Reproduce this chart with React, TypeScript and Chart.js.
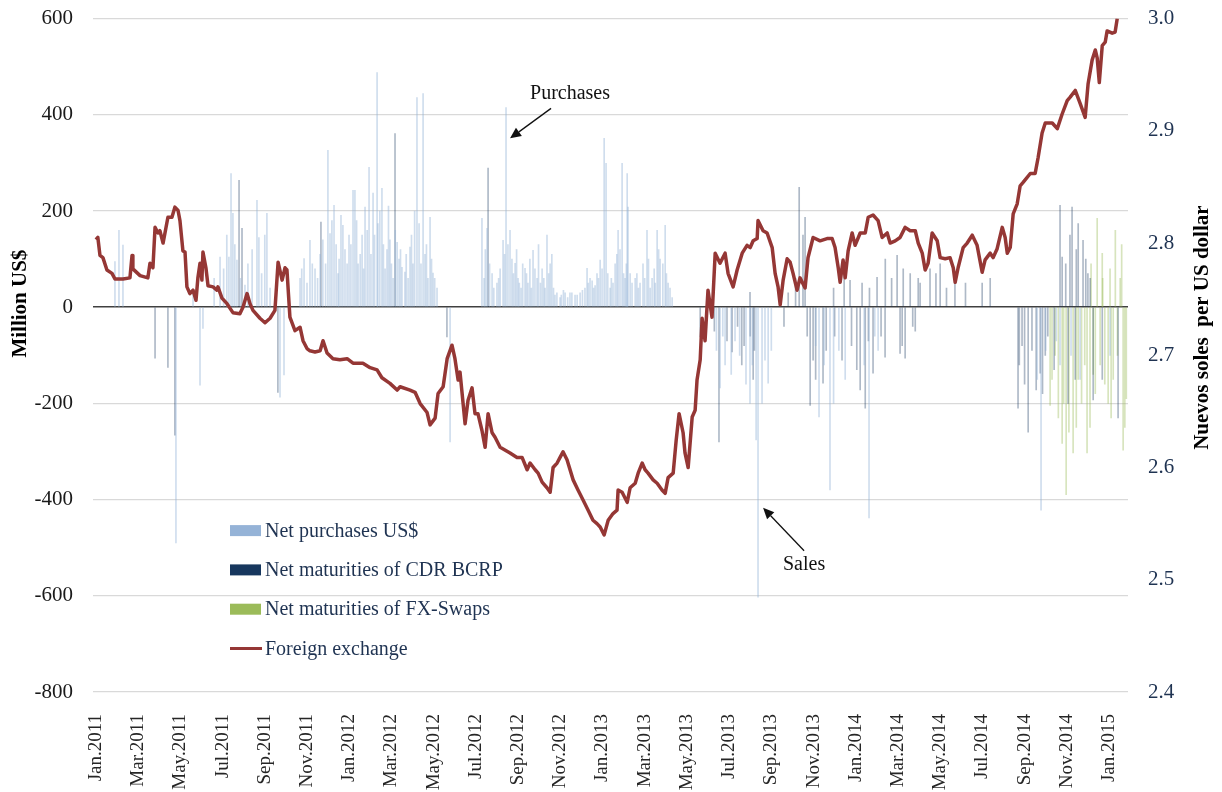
import React, { useEffect, useRef } from 'react';
import { Chart, registerables } from 'chart.js';

Chart.register(...registerables);

// ---- tick labels ----
const monthNames = ['Jan', 'Feb', 'Mar', 'Apr', 'May', 'Jun', 'Jul', 'Aug', 'Sep', 'Oct', 'Nov', 'Dec'];
const firstYear = 2011;

// ---- foreign exchange (soles per US dollar); time in months since 1 Jan 2011 ----
const fxMonth = [
  0.0, 0.09, 0.19, 0.33, 0.52, 0.76, 0.90, 1.28, 1.61, 1.71, 1.75, 2.09, 2.46, 2.56, 2.70, 2.80, 2.94, 3.03, 3.18, 3.41,
  3.60, 3.74, 3.89, 3.98, 4.12, 4.22, 4.31, 4.45, 4.60, 4.74, 4.83, 4.93, 5.02, 5.07, 5.21, 5.31, 5.55, 5.73, 5.78, 5.97,
  6.21, 6.49, 6.82, 6.97, 7.16, 7.30, 7.44, 7.77, 8.01, 8.25, 8.48, 8.63, 8.82, 8.96, 9.05, 9.19, 9.43, 9.67, 9.81, 10.00,
  10.14, 10.38, 10.62, 10.76, 10.95, 11.23, 11.56, 11.90, 12.18, 12.65, 12.99, 13.32, 13.55, 13.93, 14.27, 14.41, 14.88, 15.12, 15.36, 15.69,
  15.83, 16.07, 16.21, 16.45, 16.64, 16.87, 17.01, 17.16, 17.25, 17.49, 17.63, 17.82, 17.96, 18.10, 18.29, 18.44, 18.58, 18.77, 18.91, 19.15,
  19.62, 19.95, 20.19, 20.43, 20.57, 20.81, 20.95, 21.14, 21.37, 21.52, 21.66, 21.85, 21.99, 22.13, 22.32, 22.61, 22.84, 23.08, 23.32, 23.55,
  23.74, 23.89, 24.08, 24.27, 24.50, 24.69, 24.74, 24.93, 25.17, 25.31, 25.55, 25.69, 25.88, 26.02, 26.16, 26.40, 26.59, 26.82, 26.97, 27.11,
  27.35, 27.49, 27.63, 27.82, 27.91, 28.06, 28.25, 28.39, 28.48, 28.63, 28.72, 28.86, 29.00, 29.19, 29.34, 29.57, 29.81, 29.95, 30.19, 30.38,
  30.62, 30.85, 31.00, 31.14, 31.33, 31.37, 31.61, 31.80, 32.04, 32.18, 32.32, 32.42, 32.56, 32.75, 32.89, 33.03, 33.22, 33.36, 33.60, 33.74,
  33.98, 34.31, 34.64, 34.88, 35.02, 35.17, 35.26, 35.40, 35.50, 35.64, 35.83, 35.97, 36.21, 36.45, 36.59, 36.82, 37.06, 37.25, 37.49, 37.63,
  37.87, 38.10, 38.34, 38.58, 38.82, 38.96, 39.15, 39.29, 39.43, 39.62, 39.86, 40.00, 40.24, 40.47, 40.62, 40.71, 40.85, 41.09, 41.28, 41.52,
  41.75, 41.99, 42.13, 42.37, 42.51, 42.70, 42.94, 43.08, 43.18, 43.32, 43.46, 43.65, 43.79, 43.93, 44.27, 44.50, 44.64, 44.83, 44.98, 45.31,
  45.55, 45.78, 46.02, 46.16, 46.40, 46.64, 46.87, 47.01, 47.20, 47.35, 47.44, 47.54, 47.68, 47.82, 47.91, 48.15, 48.29, 48.39,
];
const fxRate = [
  2.803, 2.805, 2.789, 2.787, 2.776, 2.773, 2.768, 2.768, 2.769, 2.789, 2.777, 2.771, 2.769, 2.782, 2.778, 2.814, 2.809, 2.811, 2.800, 2.823,
  2.823, 2.832, 2.829, 2.820, 2.793, 2.792, 2.761, 2.755, 2.758, 2.749, 2.769, 2.782, 2.767, 2.792, 2.778, 2.762, 2.761, 2.758, 2.761, 2.751,
  2.746, 2.738, 2.737, 2.743, 2.755, 2.746, 2.740, 2.733, 2.729, 2.733, 2.740, 2.783, 2.767, 2.778, 2.776, 2.734, 2.722, 2.725, 2.713, 2.706,
  2.704, 2.703, 2.704, 2.713, 2.702, 2.697, 2.696, 2.697, 2.693, 2.693, 2.689, 2.687, 2.680, 2.675, 2.669, 2.672, 2.669, 2.667, 2.657, 2.649,
  2.638, 2.644, 2.666, 2.672, 2.697, 2.709, 2.697, 2.678, 2.685, 2.639, 2.660, 2.671, 2.648, 2.648, 2.633, 2.618, 2.648, 2.631, 2.627, 2.618,
  2.613, 2.609, 2.609, 2.598, 2.604, 2.598, 2.595, 2.587, 2.582, 2.578, 2.600, 2.604, 2.609, 2.614, 2.607, 2.589, 2.580, 2.571, 2.562, 2.553,
  2.550, 2.547, 2.540, 2.553, 2.559, 2.562, 2.580, 2.578, 2.569, 2.582, 2.586, 2.595, 2.604, 2.598, 2.595, 2.589, 2.586, 2.580, 2.577, 2.591,
  2.595, 2.624, 2.648, 2.631, 2.613, 2.600, 2.645, 2.651, 2.678, 2.696, 2.733, 2.713, 2.758, 2.734, 2.791, 2.782, 2.791, 2.773, 2.761, 2.776,
  2.791, 2.798, 2.796, 2.802, 2.804, 2.820, 2.811, 2.809, 2.796, 2.773, 2.761, 2.745, 2.767, 2.786, 2.783, 2.773, 2.758, 2.769, 2.760, 2.787,
  2.805, 2.802, 2.804, 2.804, 2.796, 2.778, 2.765, 2.785, 2.769, 2.793, 2.809, 2.798, 2.809, 2.809, 2.823, 2.825, 2.820, 2.805, 2.809, 2.800,
  2.802, 2.805, 2.814, 2.811, 2.811, 2.800, 2.791, 2.776, 2.782, 2.809, 2.802, 2.787, 2.786, 2.787, 2.778, 2.765, 2.778, 2.796, 2.800, 2.807,
  2.798, 2.774, 2.785, 2.791, 2.787, 2.795, 2.814, 2.805, 2.791, 2.796, 2.826, 2.835, 2.851, 2.854, 2.862, 2.862, 2.876, 2.898, 2.907, 2.907,
  2.902, 2.915, 2.927, 2.930, 2.936, 2.924, 2.912, 2.942, 2.963, 2.972, 2.965, 2.943, 2.976, 2.979, 2.989, 2.987, 2.988, 3.000,
];

// ---- Net purchases US$ (million US$) ----
const purchMonth = [
  0.90, 1.09, 1.28, 3.79, 4.60, 4.93, 5.07, 5.88, 6.30, 6.40, 6.49, 6.68, 7.06, 7.63, 7.72, 8.10, 8.72, 8.91, 9.67, 9.86,
  10.14, 10.38, 10.62, 10.99, 11.09, 11.28, 11.47, 11.61, 11.80, 11.99, 12.18, 12.27, 12.42, 12.61, 12.75, 12.94, 13.03, 13.13, 13.32, 13.36,
  13.55, 13.70, 13.79, 13.93, 14.08, 14.27, 14.36, 14.50, 14.64, 14.79, 14.88, 15.02, 15.21, 15.31, 15.50, 15.59, 15.73, 15.83, 15.97, 16.16,
  16.78, 18.29, 18.39, 18.53, 18.77, 19.00, 19.15, 19.29, 19.43, 19.62, 19.71, 19.86, 20.00, 20.14, 20.33, 20.47, 20.71, 20.90, 21.14, 21.28,
  21.37, 21.52, 21.75, 21.99, 22.23, 22.46, 22.70, 22.94, 23.17, 23.27, 23.41, 23.51, 23.65, 23.74, 23.89, 24.08, 24.17, 24.36, 24.50, 24.60,
  24.74, 24.83, 24.93, 25.07, 25.17, 25.21, 25.31, 25.55, 25.78, 25.92, 26.11, 26.26, 26.35, 26.59, 26.73, 26.97, 27.11, 27.30, 29.57, 29.81,
  30.28, 30.99, 31.28, 31.37, 31.56, 31.85, 34.26, 34.78, 35.50, 36.63, 37.06, 44.78, 45.68, 46.63, 48.05,
  5.60, 6.05, 6.20, 6.58, 6.85, 7.20, 7.40, 7.85, 8.00, 8.25, 9.75, 10.00, 10.25, 10.50, 10.75, 10.88, 11.18, 11.38, 11.52, 11.70,
  11.90, 12.08, 12.35, 12.52, 12.68, 12.85, 13.20, 13.45, 13.62, 13.86, 14.00, 14.18, 14.43, 14.70, 14.95, 15.10, 15.40, 15.66, 15.90, 16.05,
  18.45, 18.65, 18.85, 19.08, 19.36, 19.52, 19.78, 19.93, 20.06, 20.22, 20.40, 20.56, 20.63, 20.80, 20.97, 21.06, 21.22, 21.45, 21.60, 21.68,
  21.84, 22.05, 22.15, 22.35, 22.55, 22.80, 23.05, 23.33, 23.58, 23.81, 23.98, 24.25, 24.42, 24.68, 25.00, 25.13, 25.40, 25.63, 25.70, 26.00,
  26.18, 26.45, 26.50, 26.66, 26.86, 27.03, 27.20,
  29.40, 29.70, 30.10, 30.50, 30.80, 31.10, 31.70, 32.00, 34.10, 34.50, 34.95, 35.20, 36.40, 36.90, 44.60, 45.00, 45.50, 46.20,
];
const purchValue = [
  95, 160, 129, -490, 29, -162, -44, 104, 104, 278, 195, 98, 46, 222, 145, 195, -187, -141, 60, 101,
  139, 80, 110, 326, 153, 212, 70, 191, 120, 150, 243, 243, 90, 150, 208, 291, 110, 237, 488, 174,
  247, 80, 120, 140, 60, 135, 100, 83, 73, 60, 125, 90, 436, 174, 444, 110, 60, 187, 71, 40,
  -280, 185, 60, 164, 70, 50, 80, 139, 415, 160, 100, 91, 60, 40, 81, 50, 118, 60, 80, 40,
  150, 90, 25, 20, 30, 30, 25, 30, 40, 81, 60, 55, 45, 70, 98, 351, 299, 40, 50, 90,
  160, 120, 299, 60, 278, 208, 70, 60, 50, 90, 160, 40, 60, 160, 100, 170, 50, 20, -168, -120,
  -70, -200, -276, -603, -200, -158, -228, -380, -150, -438, -90, -422, -120, -150, -100,
  60, 80, 150, 130, 60, 90, 120, 70, 150, 40, 80, 50, 90, 60, 140, 90, 180, 130, 100, 170,
  90, 130, 180, 110, 80, 160, 150, 200, 130, 210, 90, 160, 120, 110, 150, 200, 90, 130, 100, 60,
  120, 90, 40, 60, 110, 130, 70, 120, 50, 90, 70, 100, 40, 80, 130, 50, 60, 70, 110, 40,
  30, 25, 35, 20, 30, 25, 35, 50, 40, 60, 80, 70, 60, 110, 70, 90, 50, 70, 40, 60,
  100, 80, 50, 120, 90, 70, 40,
  -90, -60, -140, -100, -160, -120, -110, -90, -80, -120, -200, -90, -120, -60, -150, -90, -70, -100,
];

// ---- Net maturities of CDR BCRP (million US$) ----
const cdrMonth = [
  2.80, 3.41, 3.74, 6.78, 6.92, 8.62, 10.66, 14.17, 16.63, 18.58, 28.63, 29.52, 30.14, 30.71, 30.99, 31.14, 33.32, 33.50, 33.60, 33.84,
  33.98, 34.45, 35.35, 35.73, 36.21, 36.45, 36.82, 37.01, 37.39, 37.96, 38.10, 38.34, 38.58, 38.82, 38.96, 39.52, 40.00, 41.99, 42.37, 43.69,
  43.88, 44.17, 44.55, 44.74, 44.98, 45.68, 45.78, 46.06, 46.25, 46.40, 46.54, 46.77, 47.11, 47.25, 47.68, 48.43,
  29.30, 29.90, 30.40, 30.60, 31.00, 31.20, 32.60, 33.70, 34.10, 34.60, 35.00, 35.80, 36.05, 36.60, 37.20, 38.20, 38.70, 43.75, 44.00, 44.35,
  44.85, 45.10, 45.40,
  32.80, 33.15, 34.95, 35.45, 36.30, 36.65, 37.40, 37.70, 38.25, 39.05, 39.80, 40.30, 40.70, 41.20, 45.95, 46.15, 46.45, 46.90, 47.00,
];
const cdrValue = [
  -106, -125, -266, 264, 164, -177, 177, 361, -62, 289, -62, -280, -93, -80, 31, -150, 249, 150, 187, -204,
  -110, -158, -110, 56, -172, -210, -137, 62, -104, 108, -96, -106, 70, -50, 60, 80, 90, 50, 60, -210,
  -80, -260, -172, -137, -100, 212, 104, -200, 208, -150, 174, 139, 60, -193, -150, -230,
  -50, -70, -40, -120, -60, -90, -40, -60, -150, -90, -60, -80, -130, -70, -60, -80, -40, -120, -160, -90,
  -180, -60, -130,
  30, 60, 40, 70, 50, 40, 100, 60, 80, 50, 70, 40, 60, 50, 90, 150, 120, 100, 70,
];

// ---- Net maturities of FX-Swaps (million US$) ----
const swapMonth = [
  45.21, 45.45, 45.78, 45.97, 46.30, 46.54, 46.96, 47.35, 47.44, 47.58, 47.68, 47.96, 48.05, 48.20, 48.30, 48.53, 48.67, 48.82,
  45.30, 45.60, 45.85, 46.10, 46.45, 46.70, 46.85, 47.10, 47.25, 47.80, 48.10, 48.40, 48.75, 47.15, 47.70, 48.60,
];
const swapValue = [
  -204, -100, -283, -390, -303, -150, -303, -180, 185, -120, 112, -200, 80, -150, 160, 60, -297, -190,
  -150, -230, -200, -260, -250, -200, -120, -250, -140, -160, -230, -100, -250, 90, 60, 130,
];

// ---- legend & annotations ----
const legendLabels = ['Net purchases US$', 'Net maturities of CDR BCRP', 'Net maturities of FX-Swaps', 'Foreign exchange'];
const legendColors = ['#95B3D7', '#17375E', '#9BBB59', '#953735'];
const noteLabels = ['Purchases', 'Sales'];
const noteMonth = [19.62, 31.61];
const noteValue = [351, -417];

const FONT = '"Liberation Serif", "DejaVu Serif", serif';
const SHIFT = 14; // canvas is drawn 14px higher to place the plot top at y = 18

const pts = (xs: number[], ys: number[]) => xs.map((x, i) => ({ x, y: ys[i] }));

const extrasPlugin = {
  id: 'extras',
  afterDraw(chart: any) {
    const { ctx, chartArea, scales } = chart;
    ctx.save();
    // axis titles
    ctx.fillStyle = '#000000';
    ctx.font = `bold 21px ${FONT}`;
    ctx.textAlign = 'center';
    ctx.textBaseline = 'middle';
    ctx.save();
    ctx.translate(chartArea.left - 72, chartArea.top + 285);
    ctx.rotate(-Math.PI / 2);
    ctx.fillText('Million US$', 0, 0);
    ctx.restore();
    ctx.save();
    ctx.translate(chartArea.right + 75, chartArea.top + 309);
    ctx.rotate(-Math.PI / 2);
    ctx.fillText('Nuevos soles  per US dollar', 0, 0);
    ctx.restore();

    // legend
    const lx = chartArea.left + 137;
    const ly = chartArea.top + 512;
    ctx.font = `20px ${FONT}`;
    ctx.textAlign = 'left';
    legendLabels.forEach((label, i) => {
      const y = ly + i * 39.3;
      if (i < 3) {
        ctx.fillStyle = legendColors[i];
        ctx.fillRect(lx, y - 5.5, 31, 11);
      } else {
        ctx.strokeStyle = legendColors[i];
        ctx.lineWidth = 3;
        ctx.beginPath();
        ctx.moveTo(lx, y);
        ctx.lineTo(lx + 32, y);
        ctx.stroke();
      }
      ctx.fillStyle = '#1F3352';
      ctx.fillText(label, lx + 35, y + 1);
    });

    // annotations with arrows
    const offsets = [
      { tx: 41, ty: -30, lx: 60, ly: -45 },
      { tx: 41, ty: 43, lx: 41, ly: 57 },
    ];
    noteLabels.forEach((label, i) => {
      const px = scales.x.getPixelForValue(noteMonth[i]);
      const py = scales.y.getPixelForValue(noteValue[i]);
      const o = offsets[i];
      const sx = px + o.tx;
      const sy = py + o.ty;
      ctx.strokeStyle = '#111111';
      ctx.fillStyle = '#111111';
      ctx.lineWidth = 1.3;
      const ang = Math.atan2(py - sy, px - sx);
      const hl = 11;
      const hw = 5;
      const bx = px - hl * Math.cos(ang);
      const by = py - hl * Math.sin(ang);
      ctx.beginPath();
      ctx.moveTo(sx, sy);
      ctx.lineTo(bx, by);
      ctx.stroke();
      ctx.beginPath();
      ctx.moveTo(px, py);
      ctx.lineTo(bx + hw * Math.sin(ang), by - hw * Math.cos(ang));
      ctx.lineTo(bx - hw * Math.sin(ang), by + hw * Math.cos(ang));
      ctx.closePath();
      ctx.fill();
      ctx.font = `20px ${FONT}`;
      ctx.textAlign = 'center';
      ctx.textBaseline = 'middle';
      ctx.fillText(label, px + o.lx, py + o.ly);
    });
    ctx.restore();
  },
};

export default function App() {
  const canvasRef = useRef<HTMLCanvasElement | null>(null);

  useEffect(() => {
    if (!canvasRef.current) return;
    const barCommon = {
      type: 'bar' as const,
      yAxisID: 'y',
      barThickness: 1,
      grouped: false,
      order: 1,
      borderWidth: 0,
    };
    const chart = new Chart(canvasRef.current, {
      type: 'bar',
      data: {
        datasets: [
          { ...barCommon, label: legendLabels[0], data: pts(purchMonth, purchValue), backgroundColor: 'rgba(149,179,215,0.45)' },
          { ...barCommon, label: legendLabels[1], data: pts(cdrMonth, cdrValue), backgroundColor: 'rgba(23,55,94,0.35)' },
          { ...barCommon, label: legendLabels[2], data: pts(swapMonth, swapValue), backgroundColor: 'rgba(155,187,89,0.4)' },
          {
            type: 'line',
            label: legendLabels[3],
            data: pts(fxMonth, fxRate),
            yAxisID: 'y1',
            borderColor: '#953735',
            borderWidth: 3.5,
            pointRadius: 0,
            tension: 0,
            borderJoinStyle: 'round',
            order: 0,
          } as any,
        ],
      },
      options: {
        responsive: false,
        animation: false,
        events: [],
        layout: { padding: { top: 5, left: 0, right: 0, bottom: 0 } },
        plugins: { legend: { display: false }, tooltip: { enabled: false } },
        scales: {
          x: {
            type: 'linear',
            min: -0.14,
            max: 48.9,
            offset: false,
            grid: { display: false },
            border: { display: false },
            ticks: {
              stepSize: 2,
              includeBounds: false,
              autoSkip: false,
              maxRotation: 90,
              minRotation: 90,
              padding: 14,
              color: '#262626',
              font: { family: FONT, size: 19 },
              callback: (v: any) => {
                const i = Math.round(Number(v));
                if (Math.abs(Number(v) - i) > 1e-6 || i < 0) return '';
                return `${monthNames[i % 12]}.${firstYear + Math.floor(i / 12)}`;
              },
            },
            afterFit: (s: any) => { s.height = 100; },
          },
          y: {
            position: 'left',
            min: -800,
            max: 600,
            border: { display: false },
            grid: {
              drawTicks: false,
              color: (c: any) => (c.tick && c.tick.value === 0 ? '#404040' : '#d9d9d9'),
              lineWidth: (c: any) => (c.tick && c.tick.value === 0 ? 1.5 : 1.3),
            },
            ticks: { stepSize: 200, padding: 20, color: '#1a1a1a', font: { family: FONT, size: 21 } },
            afterFit: (s: any) => { s.width = 93; },
          },
          y1: {
            position: 'right',
            min: 2.4,
            max: 3.0,
            border: { display: false },
            grid: { display: false, drawOnChartArea: false, drawTicks: false },
            ticks: {
              stepSize: 0.1,
              padding: 20,
              color: '#1F3352',
              font: { family: FONT, size: 21 },
              callback: (v: any) => Number(v).toFixed(1),
            },
            afterFit: (s: any) => { s.width = 94; },
          },
        },
      } as any,
      plugins: [extrasPlugin],
    });
    return () => chart.destroy();
  }, []);

  return (
    <div style={{ position: 'fixed', left: 0, top: 0, width: 1222, height: 792, overflow: 'hidden', background: '#ffffff' }}>
      <canvas
        ref={canvasRef}
        width={1222}
        height={792 + SHIFT}
        style={{ display: 'block', position: 'absolute', left: 0, top: -SHIFT }}
      />
    </div>
  );
}
